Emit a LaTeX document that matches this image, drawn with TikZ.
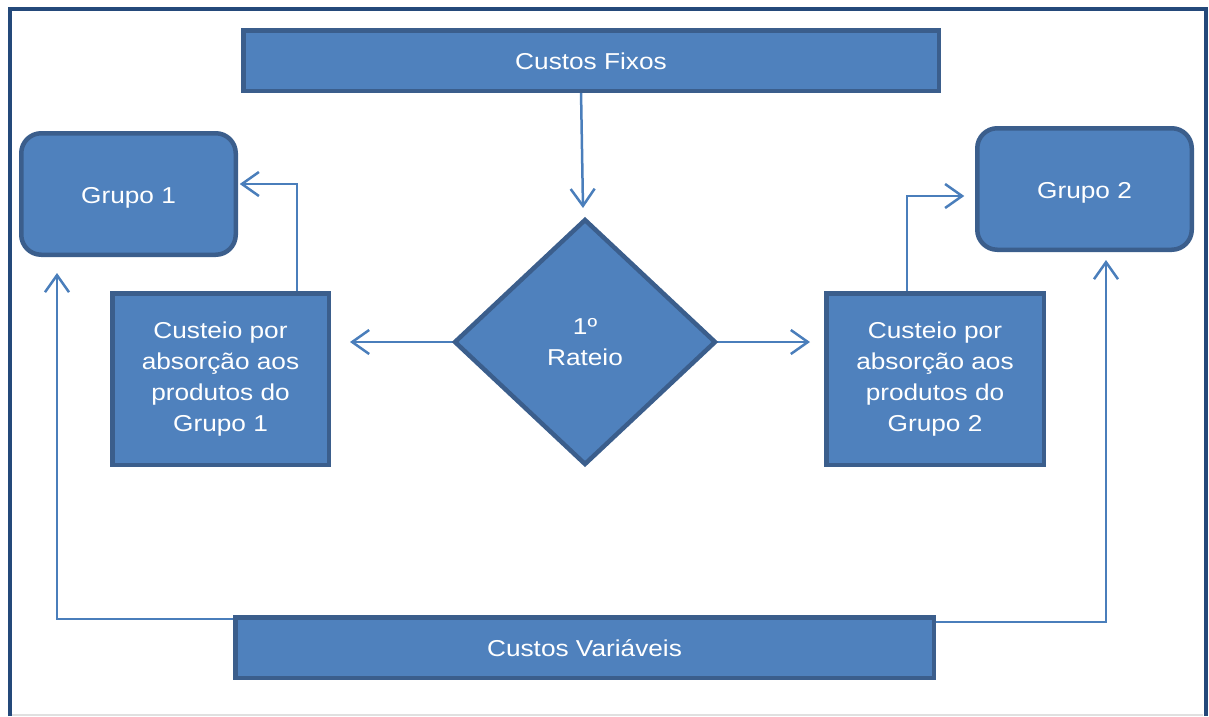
\documentclass[tikz,border=0pt]{standalone}
\usepackage{fontspec}
\setmainfont{Liberation Sans}[FakeStretch=1.14]
\usetikzlibrary{arrows.meta,shapes.geometric,backgrounds}
\definecolor{boxfill}{HTML}{4F81BD}
\definecolor{boxline}{HTML}{3B5E8C}
\definecolor{framec}{HTML}{24497A}
\definecolor{linkc}{HTML}{4A7EBB}
\newcommand{\lowertxt}[2]{\raisebox{-#1}[\height][\depth]{#2}}
\tikzset{
  box/.style={draw=boxline, fill=boxfill, line width=4.5pt, inner sep=0pt, outer sep=0pt,
    text=white, align=center, font=\fontsize{23}{31}\selectfont},
  rbox/.style={box, rounded corners=20pt},
  dbox/.style={box, diamond, aspect=1},
  arr/.style={draw=linkc, line width=2.5pt, -{Straight Barb[length=17pt,width=24pt]}}
}
\begin{document}
\begin{tikzpicture}[x=1pt,y=-1pt]
\useasboundingbox (0,0) rectangle (1209,716);
% frame
\draw[black!12, line width=1.5pt] (12,715) -- (1203,715);
\draw[framec, line width=4pt] (9.5,716) -- (9.5,8.5) -- (1205.5,8.5) -- (1205.5,716);
% nodes
\node[box, minimum width=695.5pt, minimum height=60.5pt] (cf) at (591,60.5) {\lowertxt{1pt}{Custos Fixos}};
\node[rbox, minimum width=214.5pt, minimum height=121.5pt] (g1) at (128.5,194) {\lowertxt{3.5pt}{Grupo 1}};
\node[rbox, minimum width=214.5pt, minimum height=121.5pt] (g2) at (1084.5,189) {\lowertxt{3.5pt}{Grupo 2}};
\node[box, minimum width=216.5pt, minimum height=171.5pt] (cL) at (220.5,379) {Custeio por\\absorção aos\\produtos do\\Grupo 1};
\node[box, minimum width=217.5pt, minimum height=171.5pt] (cR) at (935,379) {Custeio por\\absorção aos\\produtos do\\Grupo 2};
\node[dbox, minimum width=260pt, minimum height=244pt] (rat) at (585,342) {1º\\Rateio};
\node[box, minimum width=698.5pt, minimum height=60.5pt] (cv) at (584.5,647.5) {\lowertxt{1pt}{Custos Variáveis}};
% coordinates
\coordinate (x581) at (581,0);
\coordinate (tF) at (583,208);
\coordinate (tL) at (350,0);
\coordinate (tR) at (810,0);
\coordinate (tG1) at (57,273);
\coordinate (tG2) at (1106,260);
% connectors
\begin{scope}[on background layer]
\draw[arr] (cf.south -| x581) -- (tF);
\draw[arr] (rat.west) -- (rat.west -| tL);
\draw[arr] (rat.east) -- (rat.east -| tR);
\draw[arr] ([xshift=76.5pt]cL.north) |- ([xshift=4pt,yshift=10pt]g1.east);
\draw[arr] ([xshift=-28pt]cR.north) |- ([xshift=-13pt,yshift=-7pt]g2.west);
\draw[arr] ([yshift=28.5pt]cv.west) -| (tG1);
\draw[arr] ([yshift=25.5pt]cv.east) -| (tG2);
\end{scope}
\end{tikzpicture}
\end{document}
